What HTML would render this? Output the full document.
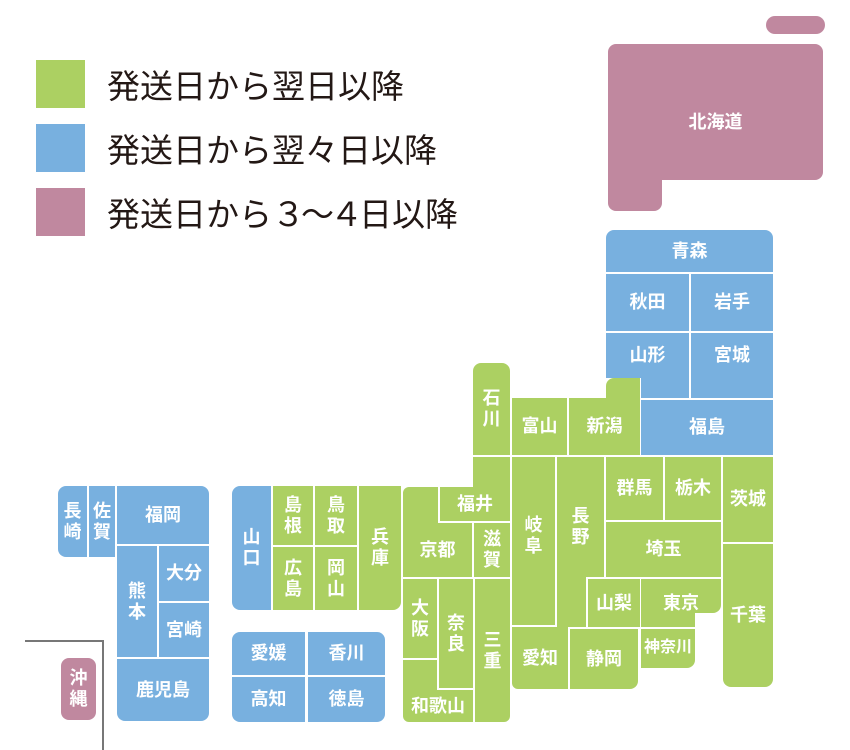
<!DOCTYPE html>
<html><head><meta charset="utf-8"><style>
body{margin:0;width:850px;height:750px;background:#fff;position:relative;overflow:hidden;font-family:"Liberation Sans","Noto Sans CJK JP",sans-serif}
.p{position:absolute;display:flex;align-items:center;justify-content:center;color:#fff;font-weight:bold;font-size:18px;line-height:1.15;text-align:center;box-sizing:border-box}
.g{background:#acd062}.b{background:#78b0df}.k{background:#c0889f}
.sq{position:absolute;left:36px;width:49px;height:48px}
.lt{position:absolute;left:107px;font-size:33px;color:#231815;line-height:1;white-space:nowrap}
</style></head><body>
<div class="sq g" style="top:60px"></div><div class="lt" style="top:70px">発送日から翌日以降</div>
<div class="sq b" style="top:124px"></div><div class="lt" style="top:134px">発送日から翌々日以降</div>
<div class="sq k" style="top:188px"></div><div class="lt" style="top:198px">発送日から<span style="letter-spacing:-4px">３〜４</span>日以降</div>

<!-- Hokkaido -->
<div class="p k" style="left:766px;top:16px;width:59px;height:18px;border-radius:9px"></div>
<div class="p k" style="left:608px;top:44px;width:215px;height:136px;border-radius:8px;padding-top:20px">北海道</div>
<div class="p k" style="left:608px;top:170px;width:54px;height:41px;border-radius:0 0 8px 8px"></div>

<!-- Tohoku -->
<div class="p b" style="left:606px;top:230px;width:167px;height:42px;border-radius:8px 8px 0 0">青森</div>
<div class="p b" style="left:606px;top:274px;width:83px;height:57px">秋田</div>
<div class="p b" style="left:691px;top:274px;width:82px;height:57px">岩手</div>
<div class="p b" style="left:606px;top:333px;width:83px;height:45px">山形</div>
<div class="p b" style="left:691px;top:333px;width:82px;height:65px;padding-bottom:20px">宮城</div>
<div class="p b" style="left:641px;top:378px;width:48px;height:20px"></div>
<div class="p b" style="left:641px;top:400px;width:132px;height:55px">福島</div>

<!-- Chubu north -->
<div class="p g" style="left:473px;top:363px;width:37px;height:92px;border-radius:8px 8px 0 0">石<br>川</div>
<div class="p g" style="left:512px;top:398px;width:55px;height:57px">富山</div>
<div class="p g" style="left:606px;top:378px;width:34px;height:24px;border-radius:8px 0 0 0"></div>
<div class="p g" style="left:569px;top:398px;width:71px;height:57px">新潟</div>

<!-- Kinki -->
<div class="p g" style="left:473px;top:457px;width:37px;height:40px"></div>
<div class="p g" style="left:440px;top:487px;width:70px;height:34px">福井</div>
<div class="p g" style="left:403px;top:487px;width:35px;height:40px;border-radius:6px 0 0 0"></div>
<div class="p g" style="left:403px;top:523px;width:69px;height:54px">京都</div>
<div class="p g" style="left:474px;top:523px;width:36px;height:54px">滋<br>賀</div>
<div class="p g" style="left:403px;top:579px;width:34px;height:79px">大<br>阪</div>
<div class="p g" style="left:439px;top:579px;width:34px;height:109px">奈<br>良</div>
<div class="p g" style="left:475px;top:579px;width:35px;height:143px;border-radius:0 0 6px 0">三<br>重</div>
<div class="p g" style="left:403px;top:660px;width:34px;height:30px"></div>
<div class="p g" style="left:403px;top:690px;width:70px;height:32px;border-radius:0 0 0 6px">和歌山</div>

<!-- Chubu/Kanto -->
<div class="p g" style="left:512px;top:457px;width:43px;height:168px;padding-bottom:10px">岐<br>阜</div>
<div class="p g" style="left:557px;top:457px;width:29px;height:170px"></div>
<div class="p g" style="left:557px;top:457px;width:47px;height:120px;padding-top:20px">長<br>野</div>
<div class="p g" style="left:606px;top:457px;width:57px;height:63px">群馬</div>
<div class="p g" style="left:665px;top:457px;width:56px;height:63px">栃木</div>
<div class="p g" style="left:723px;top:457px;width:50px;height:85px">茨城</div>
<div class="p g" style="left:606px;top:522px;width:115px;height:55px">埼玉</div>
<div class="p g" style="left:588px;top:579px;width:52px;height:48px">山梨</div>
<div class="p g" style="left:641px;top:579px;width:80px;height:34px;border-radius:0 0 8px 0"></div>
<div class="p g" style="left:641px;top:579px;width:54px;height:48px;padding-left:26px;white-space:nowrap">東京</div>
<div class="p g" style="left:723px;top:544px;width:50px;height:143px;border-radius:0 0 8px 8px">千葉</div>
<div class="p g" style="left:641px;top:629px;width:54px;height:39px;border-radius:0 0 8px 0;font-size:16px">神奈川</div>
<div class="p g" style="left:570px;top:629px;width:68px;height:60px;border-radius:0 0 8px 0">静岡</div>
<div class="p g" style="left:512px;top:627px;width:56px;height:62px;border-radius:0 0 0 6px">愛知</div>

<!-- Chugoku -->
<div class="p b" style="left:232px;top:486px;width:39px;height:124px;border-radius:8px 0 0 8px">山<br>口</div>
<div class="p g" style="left:273px;top:486px;width:40px;height:59px">島<br>根</div>
<div class="p g" style="left:315px;top:486px;width:42px;height:59px">鳥<br>取</div>
<div class="p g" style="left:273px;top:547px;width:40px;height:63px">広<br>島</div>
<div class="p g" style="left:315px;top:547px;width:42px;height:63px">岡<br>山</div>
<div class="p g" style="left:359px;top:486px;width:42px;height:124px;border-radius:0 0 8px 0">兵<br>庫</div>

<!-- Shikoku -->
<div class="p b" style="left:232px;top:632px;width:73px;height:43px;border-radius:8px 0 0 0">愛媛</div>
<div class="p b" style="left:308px;top:632px;width:77px;height:43px;border-radius:0 8px 0 0">香川</div>
<div class="p b" style="left:232px;top:677px;width:73px;height:45px;border-radius:0 0 0 8px">高知</div>
<div class="p b" style="left:308px;top:677px;width:77px;height:45px;border-radius:0 0 8px 0">徳島</div>

<!-- Kyushu -->
<div class="p b" style="left:58px;top:486px;width:29px;height:71px;border-radius:8px 0 0 8px">長<br>崎</div>
<div class="p b" style="left:89px;top:486px;width:26px;height:71px">佐<br>賀</div>
<div class="p b" style="left:117px;top:486px;width:92px;height:58px;border-radius:0 8px 0 0">福岡</div>
<div class="p b" style="left:117px;top:546px;width:40px;height:111px">熊<br>本</div>
<div class="p b" style="left:159px;top:546px;width:50px;height:55px">大分</div>
<div class="p b" style="left:159px;top:603px;width:50px;height:54px">宮崎</div>
<div class="p b" style="left:117px;top:659px;width:92px;height:62px;border-radius:0 0 8px 8px">鹿児島</div>

<!-- Okinawa -->
<div style="position:absolute;left:25px;top:640px;width:78px;height:0;border-top:2px solid #777"></div>
<div style="position:absolute;left:102px;top:640px;width:0;height:110px;border-left:2px solid #777"></div>
<div class="p k" style="left:61px;top:658px;width:35px;height:62px;border-radius:8px">沖<br>縄</div>
</body></html>
